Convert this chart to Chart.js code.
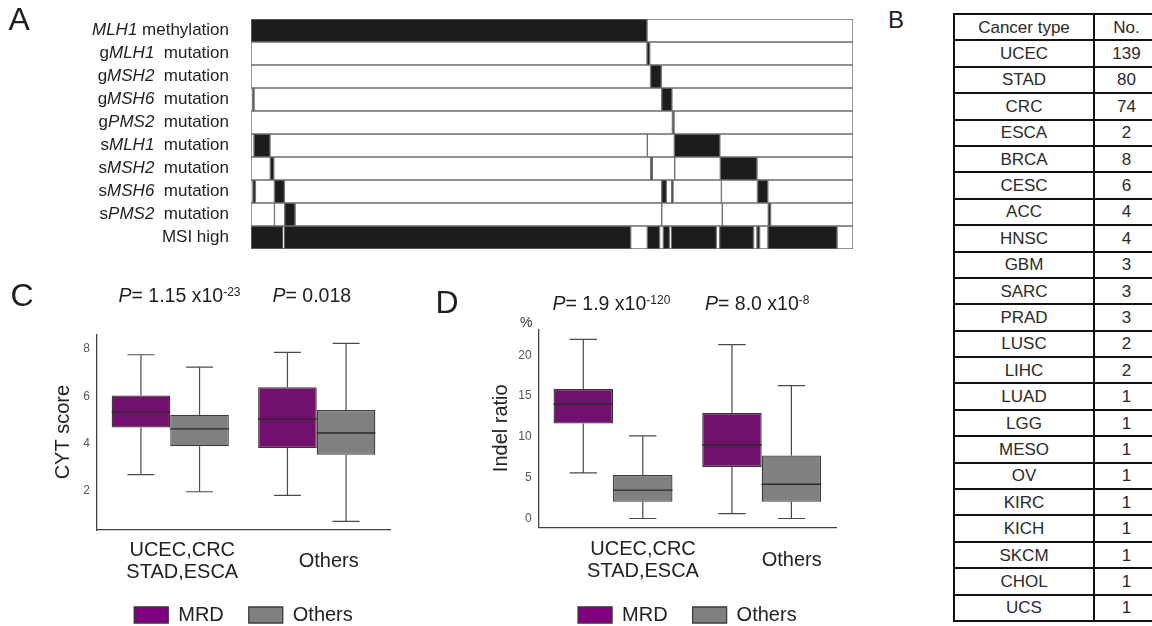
<!DOCTYPE html>
<html>
<head>
<meta charset="utf-8">
<script src="https://cdn.jsdelivr.net/npm/chart.js@4.4.1/dist/chart.umd.min.js"></script>
<style>
  html, body { margin: 0; padding: 0; background: #fff; }
  body {
    width: 1152px; height: 626px; position: relative; overflow: hidden;
    font-family: 'Liberation Sans', Arial, Helvetica, sans-serif; color: #1e1e1e;
  }
  canvas, .txt { position: absolute; }
  .txt { line-height: 1; white-space: nowrap; }
  .letter { font-size: 32px; }
  .pval { font-size: 19.5px; }
  .pval i { font-style: italic; }
  .pval sup { font-size: 12px; line-height: 0; vertical-align: 6px; }
  #tableB {
    position: absolute; left: 953px; top: 13px; width: 205px; min-width: 205px;
    border-collapse: collapse; table-layout: fixed; font-size: 17px;
  }
  #tableB td { border: 2px solid #111; padding: 0; text-align: center; line-height: 1; color: #2a2a2a; }
  #tableB tr { height: 26.4px; }
</style>
</head>
<body>

<canvas id="heatA" width="870" height="262" style="left:0;top:0"></canvas>
<canvas id="boxC" width="400" height="315" style="left:0;top:320px"></canvas>
<canvas id="boxD" width="430" height="320" style="left:420px;top:315px"></canvas>

<div class="txt letter" style="left:8.5px;top:3px">A</div>
<div class="txt letter" style="left:888px;top:8px;font-size:24px">B</div>
<div class="txt letter" style="left:10.4px;top:279px">C</div>
<div class="txt letter" style="left:435.5px;top:286px">D</div>

<div class="txt pval" style="left:118.5px;top:285.5px"><i>P</i>= 1.15 x10<sup>-23</sup></div>
<div class="txt pval" style="left:272.5px;top:285.5px"><i>P</i>= 0.018</div>
<div class="txt pval" style="left:552.5px;top:293.5px"><i>P</i>= 1.9 x10<sup>-120</sup></div>
<div class="txt pval" style="left:705px;top:293.5px"><i>P</i>= 8.0 x10<sup>-8</sup></div>
<div class="txt" style="left:520px;top:315px;font-size:14px;color:#333">%</div>

<table id="tableB">
  <colgroup><col style="width:140px"><col style="width:65px"></colgroup>
  <tbody></tbody>
</table>

<script>
// ---- panel A: MMR alteration status per sample (x = sample index) ----
const sampleCount = 339;
const rowLabels = [
  ['', 'MLH1', ' methylation'],
  ['g', 'MLH1', '  mutation'],
  ['g', 'MSH2', '  mutation'],
  ['g', 'MSH6', '  mutation'],
  ['g', 'PMS2', '  mutation'],
  ['s', 'MLH1', '  mutation'],
  ['s', 'MSH2', '  mutation'],
  ['s', 'MSH6', '  mutation'],
  ['s', 'PMS2', '  mutation'],
  ['MSI high', '', '']
];
// [from, to, altered(1) / not altered(0)]
const rowSegments = [
  [[0, 223, 1], [223, 339, 0]],
  [[0, 223, 0], [223, 224.5, 1], [224.5, 339, 0]],
  [[0, 225, 0], [225, 231, 1], [231, 339, 0]],
  [[0, 0.8, 0], [0.8, 1.7, 1], [1.7, 231.3, 0], [231.3, 237, 1], [237, 339, 0]],
  [[0, 237.3, 0], [237.3, 238.2, 1], [238.2, 339, 0]],
  [[0, 1.7, 0], [1.7, 10.7, 1], [10.7, 223.2, 0], [223.2, 238.4, 0], [238.4, 264, 1], [264, 339, 0]],
  [[0, 10.9, 0], [10.9, 12.8, 1], [12.8, 225.1, 0], [225.1, 226, 1], [226, 238.6, 0], [238.6, 264.3, 0],
   [264.3, 284.9, 1], [284.9, 339, 0]],
  [[0, 1, 0], [1, 2.5, 1], [2.5, 13.2, 0], [13.2, 18.8, 1], [18.8, 231.3, 0], [231.3, 233.9, 1],
   [233.9, 236.9, 0], [236.9, 237.6, 1], [237.6, 264.9, 0], [264.9, 285.2, 0], [285.2, 291, 1], [291, 339, 0]],
  [[0, 13.2, 0], [13.2, 19, 0], [19, 24.8, 1], [24.8, 231.3, 0], [231.3, 265.4, 0], [265.4, 291.3, 0],
   [291.3, 292.6, 1], [292.6, 339, 0]],
  [[0, 18, 1], [18, 18.7, 0], [18.7, 213.8, 1], [213.8, 223.2, 0], [223.2, 230.1, 1], [230.1, 232.2, 0],
   [232.2, 235.7, 1], [235.7, 236.7, 0], [236.7, 262.1, 1], [262.1, 263.9, 0], [263.9, 283, 1],
   [283, 284.9, 0], [284.9, 286.4, 1], [286.4, 291.1, 0], [291.1, 330, 1], [330, 339, 0]]
];

// ---- panel B ----
const cancerTypes = ['UCEC', 'STAD', 'CRC', 'ESCA', 'BRCA', 'CESC', 'ACC', 'HNSC', 'GBM', 'SARC', 'PRAD',
  'LUSC', 'LIHC', 'LUAD', 'LGG', 'MESO', 'OV', 'KIRC', 'KICH', 'SKCM', 'CHOL', 'UCS'];
const cancerCounts = [139, 80, 74, 2, 8, 6, 4, 4, 3, 3, 3, 2, 2, 1, 1, 1, 1, 1, 1, 1, 1, 1];

// ---- panels C, D: [min, q1, median, q3, max] per group ----
const groupLabels = [['UCEC,CRC', 'STAD,ESCA'], 'Others'];
const cytMRD = [[2.69, 4.68, 5.33, 6.03, 7.75], [1.82, 3.81, 5.04, 6.38, 7.85]];
const cytOthers = [[1.97, 3.89, 4.62, 5.22, 7.23], [0.72, 3.53, 4.45, 5.42, 8.23]];
const indelMRD = [[5.6, 11.64, 14.0, 15.88, 21.96], [0.6, 6.32, 9.0, 12.92, 21.32]];
const indelOthers = [[0.0, 2.04, 3.48, 5.32, 10.12], [0.0, 2.04, 4.2, 7.72, 16.28]];
const cytTicks = [2, 4, 6, 8];
const indelTicks = [0, 5, 10, 15, 20];

const FONT = "'Liberation Sans', Arial, Helvetica, sans-serif";
Chart.defaults.font.family = FONT;
Chart.defaults.color = '#222';

// table
document.querySelector('#tableB tbody').innerHTML =
  '<tr><td>Cancer type</td><td>No.</td></tr>' +
  cancerTypes.map((t, i) => `<tr><td>${t}</td><td>${cancerCounts[i]}</td></tr>`).join('');

// heatmap: one dataset per segment slot, bars overlap inside each row
const maxSegs = Math.max(...rowSegments.map(r => r.length));
const heatSets = [];
for (let k = 0; k < maxSegs; k++) {
  heatSets.push({
    data: rowSegments.map(r => r[k] ? [r[k][0], r[k][1]] : null),
    backgroundColor: rowSegments.map(r => r[k] && r[k][2] ? '#1c1c1c' : '#ffffff'),
    borderColor: '#6c6c6c',
    borderWidth: 1,
    borderSkipped: false,
    grouped: false,
    categoryPercentage: 1,
    barPercentage: 1
  });
}

const rowLabelPlugin = {
  id: 'rowLabels',
  afterDraw(chart) {
    const { ctx, chartArea, scales: { y } } = chart;
    const plain = `17px ${FONT}`, ital = `italic 17px ${FONT}`;
    ctx.save();
    ctx.fillStyle = '#1e1e1e';
    ctx.textBaseline = 'middle';
    rowLabels.forEach((parts, i) => {
      const fonts = [plain, ital, plain];
      const widths = parts.map((p, j) => { ctx.font = fonts[j]; return ctx.measureText(p).width; });
      let x = chartArea.left - 22 - widths.reduce((a, b) => a + b, 0);
      const yy = y.getPixelForValue(i);
      parts.forEach((p, j) => { ctx.font = fonts[j]; ctx.fillText(p, x, yy); x += widths[j]; });
    });
    ctx.restore();
  }
};

new Chart(document.getElementById('heatA'), {
  type: 'bar',
  data: { labels: rowLabels.map(p => p.join('')), datasets: heatSets },
  options: {
    indexAxis: 'y',
    responsive: false,
    animation: false,
    layout: { padding: { left: 251, right: 17, top: 19, bottom: 13 } },
    plugins: { legend: { display: false }, tooltip: { enabled: false } },
    scales: {
      x: { type: 'linear', min: 0, max: sampleCount, display: false },
      y: { display: false }
    }
  },
  plugins: [rowLabelPlugin]
});

// whiskers and median lines on top of the q1-q3 floating bars
const whiskerPlugin = {
  id: 'whiskers',
  afterDatasetsDraw(chart) {
    const { ctx, scales: { y } } = chart;
    ctx.save();
    chart.data.datasets.forEach((ds, di) => {
      chart.getDatasetMeta(di).data.forEach((bar, i) => {
        const [lo, q1, med, q3, hi] = ds.stats[i];
        const x = bar.x, half = bar.width / 2, cap = bar.width * 0.23;
        ctx.strokeStyle = '#4a4a4a';
        ctx.lineWidth = 1.2;
        ctx.beginPath();
        ctx.moveTo(x, y.getPixelForValue(q3)); ctx.lineTo(x, y.getPixelForValue(hi));
        ctx.moveTo(x - cap, y.getPixelForValue(hi)); ctx.lineTo(x + cap, y.getPixelForValue(hi));
        ctx.moveTo(x, y.getPixelForValue(q1)); ctx.lineTo(x, y.getPixelForValue(lo));
        ctx.moveTo(x - cap, y.getPixelForValue(lo)); ctx.lineTo(x + cap, y.getPixelForValue(lo));
        ctx.stroke();
        ctx.strokeStyle = '#2a2a2a';
        ctx.lineWidth = 1.4;
        ctx.beginPath();
        ctx.moveTo(x - half, y.getPixelForValue(med)); ctx.lineTo(x + half, y.getPixelForValue(med));
        ctx.stroke();
      });
    });
    ctx.restore();
  }
};

const legendFill = ['#800080', '#808080'];

const makeBoxChart = (id, cfg) => new Chart(document.getElementById(id), {
  type: 'bar',
  data: {
    labels: groupLabels,
    datasets: [
      { label: 'MRD', stats: cfg.mrd, data: cfg.mrd.map(s => [s[1], s[3]]),
        backgroundColor: '#72106e', borderColor: '#3a3038', borderWidth: 1.3, borderSkipped: false },
      { label: 'Others', stats: cfg.others, data: cfg.others.map(s => [s[1], s[3]]),
        backgroundColor: '#808080', borderColor: '#3c3c3c', borderWidth: 1.3, borderSkipped: false }
    ]
  },
  options: {
    responsive: false,
    animation: false,
    layout: { padding: cfg.padding },
    datasets: { bar: { categoryPercentage: 0.8, barPercentage: 1 } },
    plugins: {
      tooltip: { enabled: false },
      legend: {
        position: 'bottom',
        fullSize: false,
        labels: {
          boxWidth: 34, boxHeight: 16, padding: 25, color: '#222', font: { size: 20 },
          generateLabels(chart) {
            const items = Chart.defaults.plugins.legend.labels.generateLabels(chart);
            items.forEach((it, i) => { it.fillStyle = legendFill[i]; });
            return items;
          }
        }
      }
    },
    scales: {
      x: {
        grid: { display: false, drawTicks: false },
        border: { color: '#444', width: 1.3 },
        ticks: {
          font: { size: 20, lineHeight: 1.13 }, color: '#222', crossAlign: 'center',
          labelOffset: cfg.labelOffset, padding: cfg.tickPad, maxRotation: 0, autoSkip: false
        },
        afterFit: s => { s.height = cfg.xHeight; }
      },
      y: {
        min: cfg.min, max: cfg.max,
        grid: { display: false, drawTicks: false },
        border: { color: '#444', width: 1.3 },
        ticks: { font: { size: 12 }, color: '#555', padding: 7 },
        afterBuildTicks: s => { s.ticks = cfg.ticks.map(v => ({ value: v })); },
        title: { display: true, text: cfg.title, font: { size: 20 }, color: '#222',
                 padding: { top: cfg.titlePad, bottom: 0 } },
        afterFit: s => { s.width = cfg.yWidth; }
      }
    }
  },
  plugins: [whiskerPlugin]
});

makeBoxChart('boxC', {
  mrd: cytMRD, others: cytOthers, ticks: cytTicks, title: 'CYT score',
  min: 0.355, max: 8.617,
  padding: { top: 9, left: 0, right: 10, bottom: 0 },
  yWidth: 97, xHeight: 50, titlePad: 51, tickPad: 20, labelOffset: 12
});

makeBoxChart('boxD', {
  mrd: indelMRD, others: indelOthers, ticks: indelTicks, title: 'Indel ratio',
  min: -1.08, max: 23.2,
  padding: { top: 10, left: 0, right: 14, bottom: 0 },
  yWidth: 118.7, xHeight: 52.7, titlePad: 69.7, tickPad: 22, labelOffset: 30
});
</script>
</body>
</html>
